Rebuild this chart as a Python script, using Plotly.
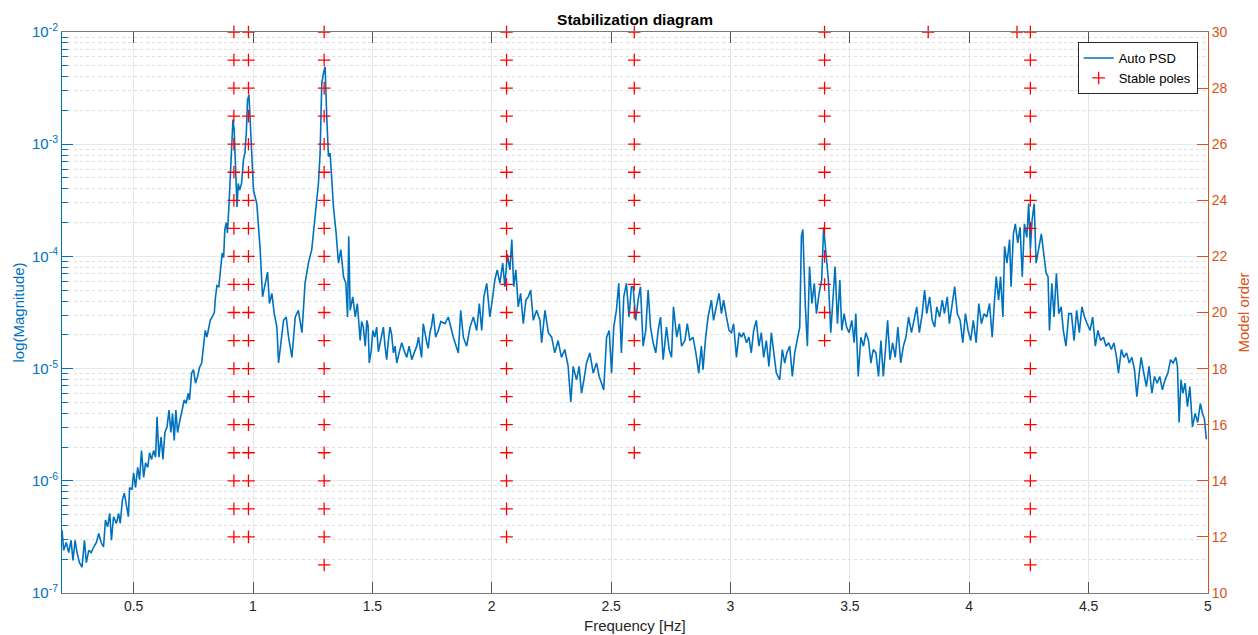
import plotly.graph_objects as go

# ---- Auto PSD: (frequency [Hz], log10 magnitude) ----
psd_seg_low = [
    (0.200, -6.44), (0.207, -6.62), (0.218, -6.55), (0.228, -6.64), (0.238, -6.53), (0.246, -6.71),
    (0.255, -6.53), (0.263, -6.64), (0.273, -6.73), (0.284, -6.77), (0.294, -6.53), (0.302, -6.73),
    (0.312, -6.62), (0.322, -6.64), (0.333, -6.59), (0.344, -6.55), (0.354, -6.47), (0.364, -6.55),
    (0.374, -6.59), (0.382, -6.35), (0.391, -6.41), (0.400, -6.29), (0.407, -6.53), (0.416, -6.32),
    (0.428, -6.38), (0.437, -6.29), (0.444, -6.38), (0.453, -6.17), (0.461, -6.11), (0.469, -6.23),
    (0.478, -6.32), (0.483, -6.06), (0.493, -6.08), (0.500, -5.93), (0.508, -6.06), (0.517, -5.88),
    (0.525, -5.99), (0.533, -5.73), (0.542, -5.97), (0.550, -5.84), (0.559, -5.88), (0.567, -5.75),
    (0.575, -5.81), (0.584, -5.73), (0.592, -5.79), (0.598, -5.43), (0.606, -5.79), (0.615, -5.61),
    (0.623, -5.81), (0.631, -5.57), (0.640, -5.52), (0.648, -5.37), (0.656, -5.57), (0.663, -5.40),
    (0.670, -5.64), (0.677, -5.37), (0.684, -5.57), (0.692, -5.48), (0.702, -5.37), (0.712, -5.28),
    (0.720, -5.31), (0.729, -5.22), (0.734, -5.28), (0.743, -5.04), (0.751, -5.01), (0.759, -5.13),
    (0.768, -5.07), (0.776, -4.99), (0.785, -4.95), (0.793, -4.77), (0.800, -4.66), (0.807, -4.72),
    (0.814, -4.63), (0.821, -4.57), (0.829, -4.54), (0.838, -4.50), (0.843, -4.36), (0.849, -4.26),
    (0.857, -4.27), (0.866, -4.09), (0.871, -3.97), (0.877, -4.01), (0.882, -3.76), (0.888, -3.70),
    (0.893, -3.79), (0.899, -3.56), (0.905, -3.23), (0.910, -2.99), (0.916, -2.78), (0.921, -2.87),
    (0.927, -3.17), (0.933, -3.56), (0.938, -3.35), (0.944, -3.41), (0.952, -3.35), (0.960, -3.14),
    (0.966, -3.08), (0.972, -2.90), (0.977, -2.61), (0.983, -2.56), (0.988, -2.78), (0.994, -3.02),
]
psd_seg_mid1 = [
    (1.002, -3.41), (1.016, -3.53), (1.030, -3.94), (1.040, -4.36), (1.051, -4.24), (1.061, -4.14),
    (1.069, -4.42), (1.079, -4.33), (1.089, -4.51), (1.100, -4.63), (1.107, -4.95), (1.117, -4.77),
    (1.128, -4.57), (1.139, -4.54), (1.149, -4.72), (1.163, -4.90), (1.177, -4.54), (1.190, -4.48),
    (1.205, -4.68), (1.218, -4.24), (1.232, -4.06), (1.246, -3.94), (1.260, -3.65), (1.274, -3.35),
    (1.281, -3.08), (1.288, -2.46), (1.295, -2.37), (1.302, -2.31), (1.309, -2.76), (1.316, -3.11),
    (1.323, -3.08), (1.330, -3.29), (1.337, -3.56), (1.348, -3.79), (1.358, -4.06), (1.368, -3.94),
    (1.379, -4.18), (1.389, -4.24), (1.396, -4.54), (1.401, -3.82), (1.407, -4.48), (1.418, -4.36),
    (1.428, -4.54), (1.437, -4.42), (1.449, -4.75), (1.455, -4.58), (1.462, -4.63), (1.470, -4.80),
    (1.477, -4.57), (1.482, -4.62), (1.487, -4.95), (1.495, -4.84), (1.502, -4.66), (1.510, -4.72),
    (1.518, -4.63), (1.525, -4.85), (1.532, -4.77), (1.539, -4.70), (1.546, -4.63), (1.553, -4.80),
    (1.560, -4.92), (1.567, -4.75), (1.574, -4.63), (1.581, -4.70), (1.588, -4.86), (1.595, -4.80),
    (1.602, -4.95), (1.612, -4.86), (1.623, -4.77), (1.633, -4.84), (1.644, -4.90), (1.654, -4.80),
    (1.665, -4.92), (1.675, -4.86), (1.686, -4.80), (1.693, -4.72), (1.700, -4.83), (1.706, -4.90),
    (1.713, -4.60), (1.720, -4.70), (1.728, -4.77), (1.734, -4.82), (1.741, -4.68), (1.748, -4.62),
    (1.755, -4.51), (1.765, -4.72), (1.776, -4.66), (1.787, -4.58),
]
psd_seg_mid2 = [
    (1.804, -4.60), (1.818, -4.54), (1.839, -4.72), (1.860, -4.86), (1.870, -4.48), (1.881, -4.72),
    (1.895, -4.80), (1.909, -4.63), (1.923, -4.54), (1.937, -4.66), (1.948, -4.42), (1.958, -4.66),
    (1.967, -4.36), (1.979, -4.24), (1.992, -4.54), (2.004, -4.36), (2.013, -4.21), (2.023, -4.12),
    (2.034, -4.24), (2.046, -4.06), (2.055, -4.27), (2.065, -3.98), (2.076, -4.12), (2.084, -3.85),
    (2.092, -4.27), (2.101, -4.12), (2.111, -4.45), (2.121, -4.33), (2.132, -4.60), (2.143, -4.39),
    (2.153, -4.36), (2.163, -4.30), (2.174, -4.57), (2.188, -4.48), (2.202, -4.57), (2.209, -4.77),
    (2.223, -4.48), (2.237, -4.68), (2.251, -4.72), (2.264, -4.86), (2.278, -4.75), (2.292, -4.90),
    (2.306, -4.83), (2.320, -4.98), (2.331, -5.30), (2.341, -4.98), (2.355, -5.10), (2.366, -4.98),
    (2.376, -5.22), (2.386, -5.10), (2.397, -4.95), (2.411, -4.86), (2.425, -5.04), (2.439, -4.95),
    (2.450, -5.07), (2.460, -5.13), (2.469, -5.19), (2.481, -4.72), (2.492, -4.66), (2.502, -5.04),
    (2.511, -4.63), (2.522, -4.48), (2.532, -4.24), (2.543, -4.86), (2.553, -4.36), (2.564, -4.24),
    (2.575, -4.54), (2.585, -4.27),
]
psd_seg_mid3 = [
    (2.592, -4.27), (2.603, -4.57), (2.613, -4.39), (2.623, -4.27), (2.634, -4.80), (2.645, -4.66),
    (2.655, -4.30), (2.665, -4.63), (2.676, -4.77), (2.687, -4.86), (2.697, -4.66), (2.707, -4.54),
    (2.718, -4.92), (2.732, -4.63), (2.743, -4.83), (2.753, -4.90), (2.761, -4.45), (2.775, -4.72),
    (2.786, -4.60), (2.795, -4.80), (2.809, -4.75), (2.819, -4.60), (2.830, -4.75), (2.843, -4.72),
    (2.855, -4.86), (2.867, -5.04), (2.878, -4.80), (2.885, -5.01), (2.896, -4.72), (2.906, -4.54),
    (2.920, -4.39), (2.929, -4.57), (2.941, -4.45), (2.952, -4.33), (2.962, -4.51), (2.971, -4.39),
    (2.983, -4.54), (2.994, -4.66), (3.004, -4.68), (3.013, -4.60), (3.025, -4.90), (3.036, -4.68),
    (3.046, -4.72), (3.055, -4.68), (3.067, -4.77), (3.077, -4.72), (3.087, -4.86), (3.097, -4.66),
    (3.108, -4.57), (3.119, -4.80), (3.129, -4.68), (3.139, -4.90), (3.150, -4.75), (3.161, -4.98),
    (3.171, -4.68), (3.180, -4.86), (3.192, -5.04), (3.206, -5.10), (3.217, -4.83), (3.227, -4.95),
    (3.236, -4.86), (3.248, -4.80), (3.259, -5.07), (3.269, -4.86), (3.278, -4.77), (3.290, -4.63),
    (3.297, -3.82), (3.303, -3.76), (3.313, -4.42), (3.322, -4.80), (3.331, -4.09), (3.341, -4.42),
    (3.351, -4.24), (3.360, -4.51),
]
psd_seg_high1 = [
    (3.371, -4.33), (3.382, -4.21), (3.390, -3.74), (3.399, -3.98), (3.410, -4.21), (3.420, -4.68),
    (3.430, -4.36), (3.438, -4.09), (3.448, -4.60), (3.458, -4.21), (3.466, -4.66), (3.476, -4.51),
    (3.486, -4.63), (3.497, -4.68), (3.508, -4.57), (3.518, -4.77), (3.525, -4.51), (3.535, -5.07),
    (3.546, -4.72), (3.557, -4.80), (3.567, -4.68), (3.578, -4.75), (3.588, -4.95), (3.598, -4.83),
    (3.609, -4.86), (3.620, -5.07), (3.630, -4.75), (3.640, -5.07), (3.648, -4.86), (3.658, -4.57),
    (3.668, -4.92), (3.679, -4.77), (3.690, -4.90), (3.701, -4.63), (3.713, -4.95), (3.724, -4.80),
    (3.735, -4.72), (3.746, -4.54), (3.758, -4.68), (3.769, -4.57), (3.780, -4.45), (3.791, -4.68),
    (3.803, -4.51), (3.813, -4.30), (3.822, -4.51), (3.834, -4.36), (3.845, -4.57), (3.855, -4.63),
    (3.864, -4.45), (3.876, -4.54), (3.887, -4.39), (3.896, -4.51), (3.908, -4.36), (3.917, -4.60),
    (3.928, -4.45), (3.939, -4.27), (3.950, -4.51), (3.962, -4.57), (3.973, -4.77), (3.984, -4.51),
    (3.995, -4.66), (4.006, -4.75), (4.017, -4.57), (4.029, -4.77), (4.040, -4.42), (4.051, -4.60),
    (4.062, -4.51), (4.073, -4.54), (4.085, -4.42), (4.096, -4.72), (4.106, -4.39), (4.113, -4.18),
    (4.123, -4.39), (4.131, -4.18), (4.141, -4.54), (4.148, -3.91), (4.158, -4.06),
]
psd_seg_high2 = [
    (4.169, -3.85), (4.175, -4.27), (4.185, -3.80), (4.193, -3.71), (4.203, -3.88), (4.213, -3.74),
    (4.222, -4.18), (4.231, -3.71), (4.241, -3.83), (4.249, -3.53), (4.256, -3.94), (4.263, -3.68),
    (4.272, -3.53), (4.280, -4.06), (4.291, -3.91), (4.302, -3.80), (4.314, -4.01), (4.322, -4.15),
    (4.330, -4.18), (4.336, -4.66), (4.346, -4.24), (4.355, -4.54), (4.365, -4.15), (4.375, -4.51),
    (4.385, -4.45), (4.394, -4.66), (4.405, -4.80), (4.417, -4.51), (4.428, -4.51), (4.439, -4.75),
    (4.450, -4.48), (4.461, -4.68), (4.472, -4.45), (4.483, -4.54), (4.494, -4.60), (4.506, -4.66),
    (4.517, -4.54), (4.528, -4.80), (4.539, -4.66), (4.550, -4.75), (4.562, -4.72), (4.573, -4.80),
    (4.584, -4.77), (4.595, -4.83), (4.606, -4.77), (4.617, -4.90), (4.625, -5.04), (4.637, -4.83),
    (4.648, -4.90), (4.659, -4.86), (4.670, -4.95), (4.681, -4.90), (4.692, -5.01), (4.702, -5.25),
    (4.712, -5.04), (4.720, -4.90), (4.731, -5.04), (4.742, -5.16), (4.753, -4.98), (4.765, -5.22),
    (4.776, -5.07), (4.787, -5.13), (4.798, -5.07), (4.809, -5.19), (4.820, -5.10), (4.832, -5.04),
    (4.843, -4.92), (4.854, -4.95), (4.865, -4.90), (4.872, -4.98), (4.879, -5.48), (4.887, -5.10),
    (4.895, -5.22), (4.904, -5.13), (4.914, -5.34), (4.924, -5.16), (4.935, -5.52), (4.946, -5.40),
    (4.957, -5.48), (4.968, -5.31), (4.977, -5.40), (4.985, -5.45), (4.993, -5.63),
]

# ---- Stable poles: frequency of each alignment and the lowest model order where it appears ----
pole_freqs = [0.920, 0.981, 1.298, 2.062, 2.597, 3.394, 3.828, 4.200, 4.256]
pole_min_order = [12, 12, 11, 12, 15, 19, 30, 30, 11]
max_order = 30

x_ticks = [0.5, 1, 1.5, 2, 2.5, 3, 3.5, 4, 4.5, 5]
x_tick_text = ["0.5", "1", "1.5", "2", "2.5", "3", "3.5", "4", "4.5", "5"]
y_decades = [1e-7, 1e-6, 1e-5, 1e-4, 1e-3, 1e-2]
y_tick_text = ["10<sup>-7</sup>", "10<sup>-6</sup>", "10<sup>-5</sup>",
               "10<sup>-4</sup>", "10<sup>-3</sup>", "10<sup>-2</sup>"]
order_ticks = [10, 12, 14, 16, 18, 20, 22, 24, 26, 28, 30]

# ---- build ----
pts = sorted(psd_seg_low + psd_seg_mid1 + psd_seg_mid2 + psd_seg_mid3 + psd_seg_high1 + psd_seg_high2)
psd_f = [p[0] for p in pts]
psd_mag = [10 ** p[1] for p in pts]

pole_x, pole_y = [], []
for f, lo in zip(pole_freqs, pole_min_order):
    for o in range(lo, max_order + 1):
        pole_x.append(f)
        pole_y.append(o)

minor_vals = [k * d for d in y_decades[:-1] for k in range(2, 10)]

BLUE = "#0072BD"
ORANGE = "#D95319"
DARK = "#262626"
FONT = "Liberation Sans, Arial, Helvetica, sans-serif"

fig = go.Figure()
fig.add_trace(go.Scatter(x=psd_f, y=psd_mag, mode="lines", name="Auto PSD",
                         line=dict(color=BLUE, width=1.6), yaxis="y"))
fig.add_trace(go.Scatter(x=pole_x, y=pole_y, mode="markers", name="Stable poles",
                         marker=dict(symbol="cross-thin", size=9, color="#FF0000",
                                     line=dict(color="#FF0000", width=1.3)),
                         yaxis="y2", cliponaxis=False))

fig.update_layout(
    width=1258, height=635,
    margin=dict(l=62, r=50, t=32, b=42),
    paper_bgcolor="white", plot_bgcolor="white",
    font=dict(family=FONT, size=14, color=DARK),
    title=dict(text="<b>Stabilization diagram</b>", x=0.5, xref="paper", xanchor="center",
               y=1 - 20 / 635, yanchor="middle", font=dict(size=15.5, color="#000000")),
    showlegend=True,
    legend=dict(x=0.991, y=0.982, xanchor="right", yanchor="top",
                bgcolor="white", bordercolor=DARK, borderwidth=1,
                font=dict(size=13, color="#000000"), tracegroupgap=0,
                itemwidth=30),
    xaxis=dict(range=[0.2, 5], tickmode="array", tickvals=x_ticks, ticktext=x_tick_text,
               ticks="inside", ticklen=11, tickcolor="#555555", tickwidth=1,
               showline=True, linecolor="#7a7a7a", linewidth=1, mirror="ticks",
               showgrid=True, gridcolor="#e6e6e6", gridwidth=1, zeroline=False,
               tickfont=dict(size=14, color=DARK)),
    yaxis=dict(type="log", range=[-7, -2], tickmode="array", tickvals=y_decades,
               ticktext=y_tick_text, ticks="inside", ticklen=11, tickcolor=BLUE,
               showline=True, linecolor=BLUE, linewidth=1,
               showgrid=True, gridcolor="#e3eaf1", gridwidth=1, zeroline=False,
               tickfont=dict(size=15, color=BLUE),
               minor=dict(tickmode="array", tickvals=minor_vals, ticks="inside", ticklen=6,
                          tickcolor=BLUE, showgrid=True, gridcolor="#dddddd", griddash="dot")),
    yaxis2=dict(range=[10, 30], overlaying="y", side="right", tickmode="array",
                tickvals=order_ticks, ticks="inside", ticklen=11, tickcolor=ORANGE,
                showline=True, linecolor=ORANGE, linewidth=1, showgrid=False, zeroline=False,
                tickfont=dict(size=14, color=ORANGE)),
    annotations=[
        dict(text="Frequency [Hz]", xref="paper", yref="paper", x=0.5, y=(593 - 625) / 561,
             xanchor="center", yanchor="middle", showarrow=False,
             font=dict(size=15, color=DARK)),
        dict(text="log(Magnitude)", xref="paper", yref="paper", x=(18 - 62) / 1146, y=0.5,
             xanchor="center", yanchor="middle", textangle=-90, showarrow=False,
             font=dict(size=15, color=BLUE)),
        dict(text="Model order", xref="paper", yref="paper", x=(1243 - 62) / 1146, y=0.5,
             xanchor="center", yanchor="middle", textangle=-90, showarrow=False,
             font=dict(size=15, color=ORANGE)),
    ],
)

fig.write_html("out.html", config={"displayModeBar": False},
               post_script="document.body.style.margin='0';document.body.style.padding='0';")
